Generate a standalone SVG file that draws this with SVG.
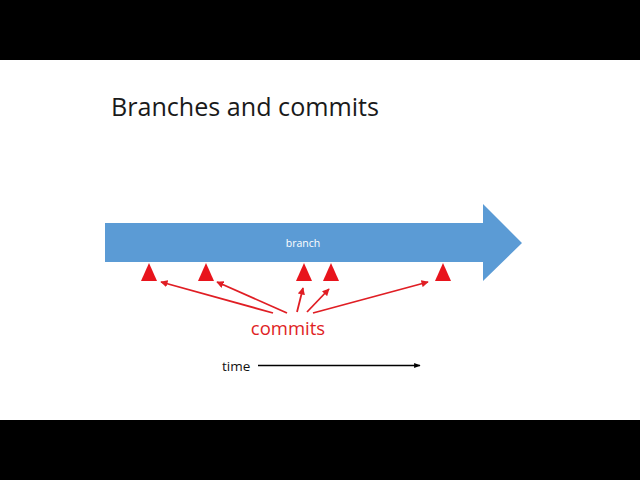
<svg xmlns="http://www.w3.org/2000/svg" width="640" height="480" viewBox="0 0 640 480">
<defs>
<style>
.t{font-family:"Open Sans","Liberation Sans",sans-serif}
.tri{fill:#e8141c}
.ptr{stroke:#e01e24;stroke-width:1.8;fill:none;marker-end:url(#rh)}
</style>
<marker id="rh" viewBox="0 0 10 10" refX="9" refY="5" markerWidth="4" markerHeight="4" orient="auto" markerUnits="strokeWidth"><path d="M0,0 L10,5 L0,10 z" fill="#e01e24"/></marker>
<marker id="bh" viewBox="0 0 10 10" refX="9" refY="5" markerWidth="5" markerHeight="5" orient="auto" markerUnits="strokeWidth"><path d="M0,1 L10,5 L0,9 z" fill="#000"/></marker>
</defs>
<rect x="0" y="0" width="640" height="480" fill="#000"/>
<rect x="0" y="60" width="640" height="360" fill="#fff"/>
<text class="t" x="111" y="116" font-size="25" fill="#1a1a1a" textLength="268" lengthAdjust="spacingAndGlyphs">Branches and commits</text>
<g id="branch">
<path d="M105,223 L483,223 L483,204 L522,243 L483,281 L483,262 L105,262 Z" fill="#5b9bd5"/>
<text class="t" x="303" y="246.5" font-size="10.5" fill="#fff" text-anchor="middle">branch</text>
</g>
<g id="commit1"><path class="tri" d="M149,263 L157,281 L141,281 Z"/></g>
<g id="commit2"><path class="tri" d="M206,263 L214,281 L198,281 Z"/></g>
<g id="commit3"><path class="tri" d="M304,263 L312,281 L296,281 Z"/></g>
<g id="commit4"><path class="tri" d="M331,263 L339,281 L323,281 Z"/></g>
<g id="commit5"><path class="tri" d="M443,263 L451,281 L435,281 Z"/></g>
<g id="commits-label"><text class="t" x="288" y="335" font-size="18.5" fill="#e01e24" text-anchor="middle">commits</text></g>
<g id="connectors">
<line class="ptr" x1="273" y1="313" x2="161" y2="282"/>
<line class="ptr" x1="287" y1="313" x2="217" y2="282"/>
<line class="ptr" x1="297" y1="312" x2="303" y2="288"/>
<line class="ptr" x1="307" y1="312" x2="329" y2="289"/>
<line class="ptr" x1="313" y1="313" x2="428" y2="282"/>
<line x1="258" y1="365.5" x2="420" y2="365.5" stroke="#000" stroke-width="1.3" marker-end="url(#bh)"/>
</g>
<g id="time-label"><text class="t" x="222" y="370.5" font-size="13.5" fill="#111">time</text></g>
</svg>
